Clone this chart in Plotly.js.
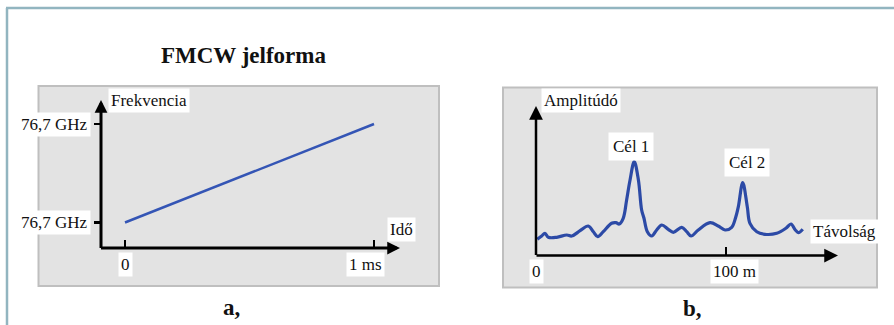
<!DOCTYPE html>
<html><head><meta charset="utf-8">
<script src="https://cdn.plot.ly/plotly-3.0.1.min.js"></script>
<style>html,body{margin:0;padding:0;background:#fff;}#chart{width:894px;height:325px;}</style>
</head><body><div id="chart"></div>
<script>
// ---- data ----
const timeMs = [0, 1];
const freqRel = [0, 1];
const freqTickLabels = ['76,7 GHz', '76,7 GHz'];
const timeTickVals = [0, 1];
const timeTickLabels = ['0', '1 ms'];

const distM = [0.7, 3.0, 4.7, 6.5, 10.9, 16.2, 18.8, 23.2, 27.5, 30.2, 32.5, 35.4, 39.8, 42.1, 43.8, 45.9, 47.7, 49.5, 51.7, 53.9, 55.6, 56.8, 58.6, 60.9, 63.5, 66.2, 69.6, 72.3, 76.7, 79.3, 81.6, 85.4, 91.6, 95.9, 99.5, 103.0, 105.0, 106.5, 108.8, 111.2, 112.6, 116.2, 120.5, 126.7, 131.5, 134.2, 136.5, 138.1, 140.4];
const amp   = [1.62, 1.95, 2.22, 1.82, 1.82, 2.05, 1.95, 2.48, 2.95, 2.38, 1.88, 2.38, 3.22, 3.28, 3.15, 3.72, 5.55, 7.55, 9.38, 7.55, 4.55, 3.75, 2.38, 1.95, 2.55, 3.05, 2.62, 2.32, 2.82, 2.38, 1.95, 2.55, 3.28, 2.95, 2.55, 2.82, 3.75, 4.88, 7.28, 4.88, 3.22, 2.38, 2.12, 2.22, 2.72, 3.15, 2.55, 2.28, 2.62];
const distTickVals = [0, 100];
const distTickLabels = ['0', '100 m'];

// ---- layout helpers (pixel -> paper) ----
const W = 894, H = 325;
const px = x => x / W;
const py = y => 1 - y / H;
const serif = 'Liberation Serif';
const txt = {family: serif, size: 17, color: '#111'};

// panel a geometry
const aX0 = 101, aXtip = 400, aT0 = 125, aT1 = 374;
const aY0 = 248, aYtip = 100, aF0 = 222.5, aF1 = 124;
const aSx = (aT1 - aT0), aSy = (aF0 - aF1);
// panel b geometry
const bX0 = 536, bXtip = 838, bM0 = 536, bM100 = 726;
const bY0 = 255.5, bYtip = 106, bScaleY = 10;
const bSx = (bM100 - bM0) / 100;

const traces = [
  {x: timeMs, y: freqRel, xaxis: 'x', yaxis: 'y', mode: 'lines',
   line: {color: '#3455b5', width: 2.5}, hoverinfo: 'skip'},
  {x: distM, y: amp, xaxis: 'x2', yaxis: 'y2', mode: 'lines',
   line: {color: '#2c4aa6', width: 3.2, shape: 'spline', smoothing: 1}, hoverinfo: 'skip'}
];

const axCommon = {showgrid: false, zeroline: false, showline: false, showticklabels: false, fixedrange: true};

const layout = {
  width: W, height: H,
  margin: {l: 0, r: 0, t: 0, b: 0},
  paper_bgcolor: '#ffffff', plot_bgcolor: 'rgba(0,0,0,0)',
  showlegend: false,
  xaxis: Object.assign({}, axCommon, {
    domain: [px(aX0), px(aXtip)], anchor: 'y',
    range: [(aX0 - aT0) / aSx, (aXtip - aT0) / aSx],
    tickmode: 'array', tickvals: timeTickVals, ticks: 'inside', ticklen: 8, tickwidth: 2.5, tickcolor: '#000'
  }),
  yaxis: Object.assign({}, axCommon, {
    domain: [py(aY0), py(aYtip)], anchor: 'x',
    range: [-(aY0 - aF0) / aSy, (aF0 - aYtip) / aSy],
    tickmode: 'array', tickvals: freqRel, ticks: 'outside', ticklen: 6, tickwidth: 2.5, tickcolor: '#000'
  }),
  xaxis2: Object.assign({}, axCommon, {
    domain: [px(bX0), px(bXtip)], anchor: 'y2',
    range: [(bX0 - bM0) / bSx, (bXtip - bM0) / bSx],
    tickmode: 'array', tickvals: distTickVals.slice(1), ticks: 'inside', ticklen: 9, tickwidth: 2.5, tickcolor: '#000'
  }),
  yaxis2: Object.assign({}, axCommon, {
    domain: [py(bY0), py(bYtip)], anchor: 'x2',
    range: [0, (bY0 - bYtip) / bScaleY], ticks: ''
  }),
  shapes: [
    {type: 'line', xref: 'paper', yref: 'paper', x0: px(6), x1: 1, y0: py(8), y1: py(8), line: {color: '#92b5c0', width: 2.5}, layer: 'below'},
    {type: 'line', xref: 'paper', yref: 'paper', x0: px(7), x1: px(7), y0: py(8), y1: 0, line: {color: '#92b5c0', width: 2.5}, layer: 'below'},
    {type: 'rect', xref: 'paper', yref: 'paper', x0: px(38.5), x1: px(439), y0: py(286), y1: py(86), fillcolor: '#e3e3e3', line: {color: '#bfbfbf', width: 2}, layer: 'below'},
    {type: 'rect', xref: 'paper', yref: 'paper', x0: px(503), x1: px(877), y0: py(287.5), y1: py(87.5), fillcolor: '#e3e3e3', line: {color: '#bfbfbf', width: 2}, layer: 'below'}
  ],
  annotations: []
};

const A = layout.annotations;
A.push({xref: 'paper', yref: 'paper', x: px(aX0), y: py(aYtip), ax: 0, ay: aY0 - aYtip + 1.5, text: '', showarrow: true, arrowhead: 2, arrowsize: 0.85, arrowwidth: 3, arrowcolor: '#000', standoff: 0});
A.push({xref: 'paper', yref: 'paper', x: px(aXtip), y: py(aY0), ax: -(aXtip - aX0 + 1.5), ay: 0, text: '', showarrow: true, arrowhead: 2, arrowsize: 0.85, arrowwidth: 3, arrowcolor: '#000', standoff: 0});
A.push({xref: 'paper', yref: 'paper', x: px(bX0), y: py(bYtip), ax: 0, ay: bY0 - bYtip + 1, text: '', showarrow: true, arrowhead: 2, arrowsize: 1.1, arrowwidth: 2.5, arrowcolor: '#000', standoff: 0});
A.push({xref: 'paper', yref: 'paper', x: px(bXtip), y: py(bY0), ax: -(bXtip - bX0 + 1), ay: 0, text: '', showarrow: true, arrowhead: 2, arrowsize: 1.1, arrowwidth: 2.5, arrowcolor: '#000', standoff: 0});

function label(text, x, y, opts) {
  A.push(Object.assign({xref: 'paper', yref: 'paper', x: px(x), y: py(y), text: text, showarrow: false,
    font: txt, bgcolor: '#ffffff', borderpad: 2, xanchor: 'center', yanchor: 'middle'}, opts || {}));
}
A.push({xref: 'paper', yref: 'paper', x: px(243), y: py(55), text: '<b>FMCW jelforma</b>', showarrow: false,
  font: {family: serif, size: 23, color: '#111'}, xanchor: 'center', yanchor: 'middle'});
A.push({xref: 'paper', yref: 'paper', x: px(232), y: py(307), text: '<b>a,</b>', showarrow: false,
  font: {family: serif, size: 23, color: '#111'}, xanchor: 'center', yanchor: 'middle'});
A.push({xref: 'paper', yref: 'paper', x: px(692), y: py(308), text: '<b>b,</b>', showarrow: false,
  font: {family: serif, size: 23, color: '#111'}, xanchor: 'center', yanchor: 'middle'});

label('Frekvencia', 149, 101);
label('Idő', 401, 229);
freqRel.forEach((v, i) => A.push({xref: 'paper', yref: 'y', x: px(91), y: v, text: freqTickLabels[i], showarrow: false,
  font: txt, bgcolor: '#ffffff', borderpad: 2, xanchor: 'right', yanchor: 'middle'}));
timeTickVals.forEach((v, i) => A.push({xref: 'x', yref: 'paper', x: v, y: py(264), text: timeTickLabels[i], showarrow: false,
  font: txt, bgcolor: '#ffffff', borderpad: 2, xanchor: 'center', yanchor: 'middle', xshift: i === 1 ? -9 : 0}));

label('Amplitúdó', 581, 101);
label('Cél 1', 631, 146, {borderpad: 4});
label('Cél 2', 747, 162, {borderpad: 4});
label('Távolság', 844, 231);
distTickVals.forEach((v, i) => A.push({xref: 'x2', yref: 'paper', x: v, y: py(271), text: distTickLabels[i], showarrow: false,
  font: txt, bgcolor: '#ffffff', borderpad: 2, xanchor: 'center', yanchor: 'middle', xshift: i === 1 ? 8 : 0}));

Plotly.newPlot('chart', traces, layout, {staticPlot: true, displayModeBar: false});
</script></body></html>
